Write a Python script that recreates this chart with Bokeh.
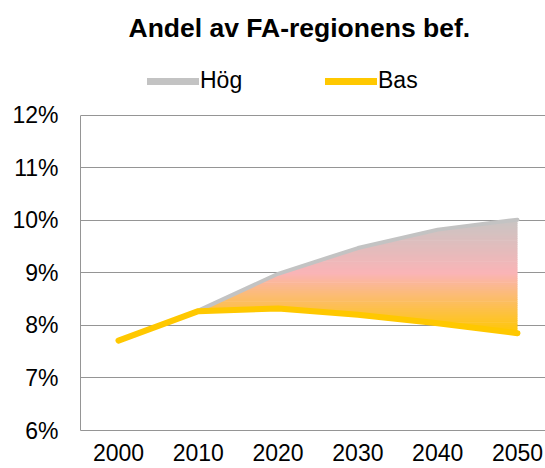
import numpy as np
from bokeh.plotting import figure
from bokeh.models import Legend, LegendItem, FixedTicker, Range1d
from bokeh.embed import file_html
from bokeh.resources import INLINE

# ---- data ----
years = [2000, 2010, 2020, 2030, 2040, 2050]
hog = [7.71, 8.28, 8.98, 9.47, 9.82, 10.01]   # Hög scenario, % of FA-region population
bas = [7.71, 8.27, 8.32, 8.20, 8.04, 7.85]    # Bas scenario
x_tick_labels = ["2000", "2010", "2020", "2030", "2040", "2050"]
y_ticks = [6, 7, 8, 9, 10, 11, 12]
y_tick_labels = ["6%", "7%", "8%", "9%", "10%", "11%", "12%"]
series_names = ["Hög", "Bas"]
title_text = "Andel av FA-regionens bef."

# ---- style ----
FONT = "Liberation Sans"
GRID = "#959595"
HOG_COLOR = "#C3C3C3"
BAS_COLOR = "#FFC800"
grad_pos = [7.85, 9.0, 10.02]
grad_rgb = [(255, 200, 0), (250, 180, 182), (200, 197, 195)]

# frame runs from just under the title to the 6% line; the legend sits in the
# empty strip above the 12% gridline
p = figure(width=545, height=468, output_backend="svg", toolbar_location=None,
           x_range=Range1d(1995.24, 2053.51), y_range=Range1d(6, 13.341),
           min_border_left=80, min_border_right=0, min_border_top=44,
           min_border_bottom=38)
p.outline_line_color = None
p.xgrid.grid_line_color = None
p.ygrid.grid_line_color = GRID
p.ygrid.grid_line_width = 1
p.ygrid.ticker = FixedTicker(ticks=y_ticks)


def crossings(xv, yv, level):
    out = []
    for i in range(len(xv) - 1):
        d0, d1 = yv[i] - level, yv[i + 1] - level
        if d0 * d1 < 0:
            out.append(xv[i] + (level - yv[i]) * (xv[i + 1] - xv[i]) / (yv[i + 1] - yv[i]))
    return out


# ---- gradient fill between the two scenarios, as horizontal bands ----
top = list(np.maximum(hog, bas))
edges = np.arange(7.70, 10.06 + 0.04, 0.04)
for a, b in zip(edges[:-1], edges[1:]):
    a2 = a - 0.012
    bx = sorted(set(years + crossings(years, bas, a2) + crossings(years, bas, b)
                    + crossings(years, top, a2) + crossings(years, top, b)))
    y1 = np.clip(np.interp(bx, years, bas), a2, b)
    y2 = np.clip(np.interp(bx, years, top), a2, b)
    if np.all(y2 - y1 <= 0):
        continue
    mid = (a + b) / 2
    rgb = tuple(int(round(np.interp(mid, grad_pos, [c[k] for c in grad_rgb]))) for k in range(3))
    p.varea(x=bx, y1=list(y1), y2=list(y2), fill_color="#%02x%02x%02x" % rgb)

# ---- lines ----
r_hog = p.line(years, hog, line_color=HOG_COLOR, line_width=4, line_join="round", line_cap="round")
r_bas = p.line(years, bas, line_color=BAS_COLOR, line_width=6, line_join="round", line_cap="round")

# legend swatches (thicker than the plotted lines, as in the reference)
lg_hog = p.line([years[0]], [hog[0]], line_color=HOG_COLOR, line_width=7, line_cap="round")
lg_bas = p.line([years[0]], [bas[0]], line_color=BAS_COLOR, line_width=7, line_cap="round")

legend = Legend(items=[LegendItem(label=series_names[0], renderers=[lg_hog]),
                       LegendItem(label=series_names[1], renderers=[lg_bas])],
                orientation="horizontal", location=(67, 336),
                glyph_width=52, glyph_height=20, label_standoff=1, label_width=100,
                spacing=25, padding=0, margin=0,
                border_line_color=None, background_fill_alpha=0,
                label_text_font=FONT, label_text_font_size="23px", label_text_color="black")
p.add_layout(legend)

# ---- axes ----
for ax in (p.xaxis, p.yaxis):
    ax.axis_line_color = GRID
    ax.major_tick_line_color = None
    ax.minor_tick_line_color = None
    ax.major_label_text_font = FONT
    ax.major_label_text_font_size = "23px"
    ax.major_label_text_color = "black"

p.xaxis.ticker = FixedTicker(ticks=years)
p.xaxis.major_label_overrides = dict(zip(years, x_tick_labels))
p.xaxis.major_label_standoff = 7
p.yaxis.ticker = FixedTicker(ticks=y_ticks)
p.yaxis.major_label_overrides = dict(zip(y_ticks, y_tick_labels))
p.yaxis.major_label_standoff = 16
p.yaxis.bounds = (y_ticks[0], y_ticks[-1])

p.title.text = title_text
p.title.text_font = FONT
p.title.text_font_size = "26.5px"
p.title.text_font_style = "bold"
p.title.text_color = "black"
p.title.align = "left"
p.title.offset = 48
p.title.standoff = 4

open("out.html", "w").write(file_html(p, INLINE))
